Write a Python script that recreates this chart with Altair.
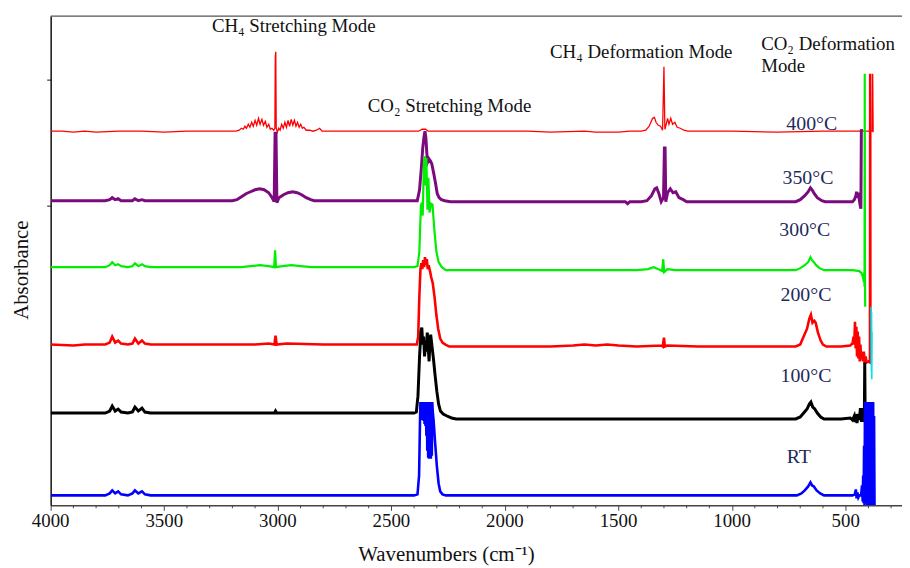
import altair as alt
import pandas as pd

W, H = 858, 493
FONT = "Liberation Serif"

# ---- spectra: (wavenumber cm-1, absorbance offset units) ----
RT = [(4000,0.10),(3900,0.10),(3800,0.10),(3760,0.10),(3740,0.12),(3729,0.15),(3716,0.12),(3703,0.14),
      (3690,0.11),(3660,0.10),(3640,0.12),(3629,0.15),(3614,0.12),(3598,0.14),(3585,0.11),(3560,0.10),
      (3400,0.10),(3250,0.10),(3000,0.10),(2800,0.10),(2600,0.10),(2450,0.10),(2400,0.10),
      (2385,0.11),(2378,0.30),(2374,0.85),(2372,1.04),(2370,0.90),(2368,1.04),(2366,0.86),(2364,1.04),
      (2362,0.88),(2360,1.04),(2358,0.85),(2356,1.04),(2354,0.82),(2352,1.04),(2350,0.80),(2348,1.04),
      (2346,0.70),(2344,1.04),(2342,0.55),(2340,1.04),(2338,0.48),(2336,1.04),(2334,0.47),(2332,1.04),
      (2330,0.47),(2328,1.04),(2326,0.47),(2324,1.04),(2322,0.50),(2320,1.04),(2318,0.95),(2314,0.85),
      (2308,0.65),(2300,0.40),(2292,0.22),(2285,0.14),(2275,0.11),(2260,0.10),(2100,0.10),(1800,0.10),
      (1700,0.10),(1500,0.10),(1200,0.10),(1000,0.10),(800,0.10),(715,0.10),(695,0.12),(680,0.15),
      (665,0.19),(655,0.23),(648,0.20),(640,0.19),(628,0.15),(612,0.12),(595,0.10),(560,0.10),
      (500,0.10),(470,0.10),(460,0.11),(455,0.16),(452,0.07),(448,0.13),(444,0.08),(440,0.10),
      (432,0.10),(428,0.20),(425,0.04),(423,0.30),(421,0.02),(419,0.60),(417,0.00),(415,1.04),
      (413,0.05),(411,1.04),(409,0.02),(407,1.04),(405,0.00),(403,1.04),(401,0.05),(399,1.04),
      (397,0.00),(395,1.04),(393,0.02),(391,1.04),(389,0.00),(387,1.04),(385,0.00),(383,1.04),
      (381,0.05),(379,1.04),(377,0.00),(375,0.90),(373,0.00)]

T100 = [(4000,0.93),(3900,0.93),(3800,0.93),(3760,0.93),(3740,0.95),(3729,1.00),(3716,0.95),(3703,0.97),
        (3690,0.94),(3660,0.93),(3640,0.94),(3629,0.99),(3614,0.95),(3598,0.98),(3585,0.94),(3560,0.93),
        (3300,0.93),(3100,0.93),(3015,0.93),(3010,0.95),(3005,0.93),(2800,0.93),(2500,0.93),(2400,0.93),
        (2390,0.94),(2383,1.10),(2376,1.50),(2370,1.75),(2366,1.79),(2362,1.62),(2358,1.70),(2354,1.50),
        (2350,1.62),(2346,1.55),(2342,1.74),(2338,1.60),(2334,1.45),(2330,1.65),(2327,1.72),(2322,1.62),
        (2315,1.48),(2308,1.32),(2300,1.15),(2292,1.02),(2284,0.95),(2272,0.92),(2255,0.90),(2235,0.88),
        (2215,0.87),(2000,0.87),(1700,0.87),(1500,0.87),(1300,0.87),(1000,0.87),(800,0.87),(720,0.87),
        (700,0.89),(685,0.93),(670,0.97),(660,1.02),(653,1.04),(645,0.99),(636,0.97),(625,0.93),
        (610,0.89),(595,0.87),(560,0.87),(520,0.87),(480,0.88),(470,0.86),(462,0.90),(458,0.84),
        (455,0.92),(450,0.83),(445,0.92),(440,0.86),(435,0.98),(430,0.84),(425,0.98),(420,0.84),
        (418,0.86),(416,1.44),(414,0.84),(412,0.90)]

T200 = [(4000,1.62),(3900,1.61),(3850,1.62),(3760,1.62),(3740,1.64),(3729,1.70),(3716,1.64),(3703,1.66),
        (3690,1.63),(3660,1.62),(3640,1.63),(3629,1.68),(3614,1.63),(3598,1.66),(3585,1.63),(3560,1.62),
        (3300,1.62),(3100,1.62),(3040,1.63),(3015,1.62),(3010,1.71),(3005,1.62),(2960,1.63),(2800,1.62),
        (2500,1.62),(2400,1.62),(2388,1.62),(2382,1.70),(2377,2.10),(2372,2.38),(2368,2.44),(2364,2.38),
        (2360,2.47),(2356,2.40),(2352,2.50),(2348,2.42),(2344,2.48),(2340,2.38),(2336,2.42),(2330,2.36),
        (2325,2.30),(2318,2.24),(2310,2.10),(2302,1.92),(2294,1.78),(2285,1.68),(2275,1.64),(2262,1.62),
        (2245,1.60),(2000,1.60),(1800,1.60),(1700,1.61),(1650,1.62),(1600,1.61),(1550,1.62),(1500,1.61),
        (1420,1.60),(1310,1.61),(1305,1.60),(1300,1.69),(1296,1.60),(1285,1.61),(1150,1.60),(1000,1.60),
        (800,1.60),(720,1.60),(700,1.62),(685,1.70),(670,1.78),(660,1.88),(653,1.92),(646,1.84),
        (638,1.86),(632,1.84),(622,1.74),(610,1.66),(600,1.62),(585,1.60),(520,1.60),(480,1.61),
        (470,1.63),(465,1.70),(462,1.62),(459,1.85),(456,1.58),(453,1.80),(450,1.50),(447,1.75),
        (444,1.48),(441,1.70),(438,1.45),(435,1.62),(432,1.47),(428,1.55),(424,1.45),(420,1.55),
        (416,1.42),(412,1.50),(408,1.44),(400,1.45),(393,1.44),(392,4.35),(391,1.44)]

T300 = [(4000,2.40),(3850,2.40),(3760,2.40),(3740,2.42),(3729,2.45),(3716,2.42),(3703,2.43),(3690,2.41),
        (3660,2.40),(3640,2.41),(3629,2.44),(3614,2.41),(3598,2.43),(3585,2.41),(3560,2.40),(3300,2.40),
        (3160,2.40),(3120,2.41),(3080,2.42),(3040,2.41),(3016,2.40),(3012,2.57),(3008,2.40),(2980,2.41),
        (2940,2.42),(2900,2.41),(2850,2.40),(2600,2.40),(2400,2.40),(2385,2.41),(2377,2.55),(2370,3.02),
        (2366,3.05),(2362,2.92),(2357,3.45),(2353,3.52),(2349,3.22),(2346,3.50),(2341,2.98),(2337,3.30),
        (2332,2.95),(2326,3.04),(2319,3.03),(2311,2.78),(2302,2.56),(2292,2.45),(2278,2.40),(2260,2.37),
        (2000,2.37),(1700,2.37),(1420,2.37),(1370,2.38),(1345,2.40),(1325,2.38),(1308,2.36),(1303,2.48),
        (1299,2.35),(1285,2.38),(1250,2.37),(1000,2.37),(800,2.37),(720,2.37),(700,2.39),(680,2.42),
        (665,2.45),(655,2.50),(648,2.47),(640,2.45),(630,2.42),(615,2.39),(595,2.37),(520,2.37),
        (470,2.37),(440,2.36),(430,2.34),(424,2.30),(420,2.25),(418,2.35),(417,2.20),(416,4.35),
        (415,2.28),(414,2.00)]

T350 = [(4000,3.07),(3850,3.07),(3760,3.07),(3740,3.08),(3729,3.10),(3716,3.08),(3703,3.09),(3690,3.07),
        (3660,3.07),(3640,3.07),(3629,3.09),(3614,3.07),(3598,3.08),(3585,3.07),(3400,3.07),(3200,3.07),
        (3180,3.08),(3160,3.11),(3140,3.14),(3120,3.16),(3100,3.18),(3080,3.19),(3060,3.18),(3040,3.15),
        (3025,3.10),(3016,3.06),(3012,3.75),(3008,3.75),(3004,3.05),(2995,3.10),(2975,3.13),(2955,3.15),
        (2935,3.16),(2915,3.15),(2895,3.13),(2875,3.10),(2855,3.08),(2840,3.07),(2600,3.07),(2400,3.07),
        (2386,3.07),(2376,3.18),(2368,3.40),(2362,3.60),(2356,3.72),(2352,3.77),(2348,3.70),(2344,3.55),
        (2340,3.46),(2334,3.49),(2328,3.47),(2322,3.44),(2314,3.35),(2306,3.25),(2298,3.14),(2290,3.10),
        (2280,3.08),(2265,3.07),(2240,3.06),(2000,3.06),(1700,3.06),(1470,3.06),(1460,3.04),(1450,3.06),
        (1400,3.06),(1375,3.07),(1355,3.12),(1340,3.19),(1332,3.20),(1322,3.14),(1312,3.06),(1302,3.10),
        (1298,3.60),(1295,3.60),(1292,3.06),(1284,3.15),(1272,3.19),(1260,3.15),(1248,3.16),(1234,3.10),
        (1215,3.08),(1200,3.06),(1000,3.06),(800,3.06),(720,3.06),(700,3.08),(680,3.12),(665,3.16),
        (655,3.20),(648,3.18),(638,3.14),(625,3.10),(605,3.07),(590,3.06),(520,3.06),(470,3.06),
        (462,3.08),(455,3.12),(452,3.16),(448,3.10),(445,3.15),(440,3.08),(436,3.02),(433,2.99),
        (431,3.79),(430,3.77)]

T400 = [(4000,3.77),(3950,3.77),(3900,3.76),(3850,3.77),(3800,3.76),(3700,3.77),(3600,3.77),(3500,3.76),
        (3400,3.77),(3200,3.77),(3185,3.77),(3170,3.78),(3160,3.80),(3152,3.79),(3145,3.82),(3138,3.80),
        (3130,3.84),(3123,3.81),(3115,3.86),(3108,3.82),(3100,3.88),(3093,3.83),(3085,3.90),(3078,3.84),
        (3070,3.89),(3063,3.83),(3055,3.87),(3048,3.81),(3040,3.84),(3033,3.79),(3026,3.80),(3018,3.78),
        (3013,3.80),(3011,4.52),(3009,4.57),(3007,3.80),(3002,3.76),(2996,3.80),(2990,3.78),(2983,3.84),
        (2976,3.80),(2969,3.86),(2962,3.81),(2955,3.88),(2948,3.82),(2941,3.89),(2934,3.83),(2927,3.88),
        (2920,3.82),(2913,3.86),(2906,3.81),(2899,3.84),(2892,3.80),(2885,3.81),(2875,3.78),(2860,3.78),
        (2845,3.77),(2830,3.78),(2816,3.80),(2805,3.77),(2780,3.77),(2700,3.77),(2500,3.77),(2380,3.77),
        (2365,3.79),(2350,3.79),(2338,3.77),(2100,3.77),(1900,3.77),(1800,3.76),(1650,3.77),(1600,3.76),
        (1500,3.76),(1450,3.77),(1400,3.77),(1380,3.78),(1365,3.82),(1350,3.90),(1342,3.91),(1335,3.86),
        (1325,3.83),(1315,3.82),(1306,3.78),(1300,4.42),(1296,3.79),(1290,3.84),(1284,3.90),(1278,3.84),
        (1270,3.90),(1262,3.84),(1252,3.86),(1242,3.81),(1228,3.80),(1212,3.78),(1195,3.77),(1000,3.77),
        (800,3.76),(600,3.77),(450,3.77),(384,3.77),(381,4.35),(379,3.76)]

EXTRA = [(388,2.00),(387,1.35),(386,1.95),(385,1.27),(384,1.75)]

# series: (name, points, colour, stroke width) drawn from top trace to bottom trace
SERIES = [("400°C", T400, "#FF0000", 1.3), ("350°C", T350, "#7A0A7E", 3.0),
          ("300°C", T300, "#00EE00", 2.2), ("200°C", T200, "#FF0000", 2.6),
          ("extra", EXTRA, "#00E5F0", 1.6), ("100°C", T100, "#000000", 3.0),
          ("RT", RT, "#0000FF", 2.6)]

X_MAJOR = [4000, 3500, 3000, 2500, 2000, 1500, 1000, 500]
X_MINOR = [v for v in range(3900, 250, -100) if v % 500 != 0]
Y_TICKS = [3.02, 4.29]
X_TITLE = "Wavenumbers  (cm⁻¹)"
Y_TITLE = "Absorbance"

ANN_TEXT = ["CH₄ Stretching Mode", "CO₂ Stretching Mode", "CH₄ Deformation Mode"]
ANN_W = [2930, 2244, 1400]
ANN_A = [4.83, 4.02, 4.57]
ANN2_TEXT = ["CO₂ Deformation", "Mode"]
ANN2_W = [872, 872]
ANN2_A = [4.65, 4.43]
TEMP_TEXT = ["400°C", "350°C", "300°C", "200°C", "100°C", "RT"]
TEMP_W = [649, 666, 680, 675, 675, 706]
TEMP_A = [3.84, 3.30, 2.77, 2.12, 1.30, 0.49]

x_enc = alt.X("w:Q",
              scale=alt.Scale(domain=[252, 4000], reverse=True, nice=False, zero=False),
              axis=alt.Axis(values=X_MAJOR, labels=False, title=None, grid=False,
                            domainColor="#444", domainWidth=1.5, tickColor="#444", tickSize=5))
y_enc = alt.Y("a:Q",
              scale=alt.Scale(domain=[0, 4.93], nice=False, zero=False),
              axis=alt.Axis(values=Y_TICKS, labels=False, title=None, grid=False,
                            domainColor="#111", domainWidth=1.5, tickColor="#111", tickSize=4))

layers = []
for name, pts, col, sw in SERIES:
    df = pd.DataFrame({"w": [p[0] for p in pts], "a": [p[1] for p in pts],
                       "i": list(range(len(pts)))})
    layers.append(alt.Chart(df).mark_line(color=col, strokeWidth=sw, clip=True)
                  .encode(x=x_enc, y=y_enc, order="i:Q"))

ann = pd.DataFrame({"w": ANN_W, "a": ANN_A, "t": ANN_TEXT})
layers.append(alt.Chart(ann).mark_text(font=FONT, fontSize=19, color="#111",
                                       align="center", baseline="middle")
              .encode(x=x_enc, y=y_enc, text="t:N"))
ann2 = pd.DataFrame({"w": ANN2_W, "a": ANN2_A, "t": ANN2_TEXT})
layers.append(alt.Chart(ann2).mark_text(font=FONT, fontSize=19, color="#111",
                                        align="left", baseline="middle")
              .encode(x=x_enc, y=y_enc, text="t:N"))
temps = pd.DataFrame({"w": TEMP_W, "a": TEMP_A, "t": TEMP_TEXT})
layers.append(alt.Chart(temps).mark_text(font=FONT, fontSize=20, color="#1F2A5C",
                                         align="center", baseline="middle")
              .encode(x=x_enc, y=y_enc, text="t:N"))

minor = pd.DataFrame({"w": X_MINOR})
layers.append(alt.Chart(minor).mark_rule(color="#444", strokeWidth=1)
              .encode(x=x_enc, y=alt.value(H), y2=alt.value(H + 3)))

# tick labels drawn as text marks so the serif font is honoured
ticklab = pd.DataFrame({"w": X_MAJOR, "t": [str(v) for v in X_MAJOR]})
layers.append(alt.Chart(ticklab).mark_text(font=FONT, fontSize=19, color="#111",
                                           align="center", baseline="middle")
              .encode(x=x_enc, y=alt.value(H + 16), text="t:N"))

xt = pd.DataFrame({"t": [X_TITLE]})
layers.append(alt.Chart(xt).mark_text(font=FONT, fontSize=21, color="#111",
                                      align="center", baseline="middle")
              .encode(x=alt.value(399), y=alt.value(H + 50), text="t:N"))
yt = pd.DataFrame({"t": [Y_TITLE]})
layers.append(alt.Chart(yt).mark_text(font=FONT, fontSize=21, color="#111", angle=270,
                                      align="center", baseline="middle")
              .encode(x=alt.value(-29), y=alt.value(256), text="t:N"))

top = pd.DataFrame({"d": [0]})
layers.append(alt.Chart(top).mark_rule(color="#555", strokeWidth=1.5)
              .encode(x=alt.value(0), x2=alt.value(W), y=alt.value(0)))

chart = (alt.layer(*layers)
         .properties(width=W, height=H,
                     autosize=alt.AutoSizeParams(type="none"),
                     padding={"left": 43, "top": 6, "right": 0, "bottom": 60},
                     background="white")
         .configure_view(stroke=None))

chart.save("out.html", embed_options={"renderer": "svg", "actions": False})
